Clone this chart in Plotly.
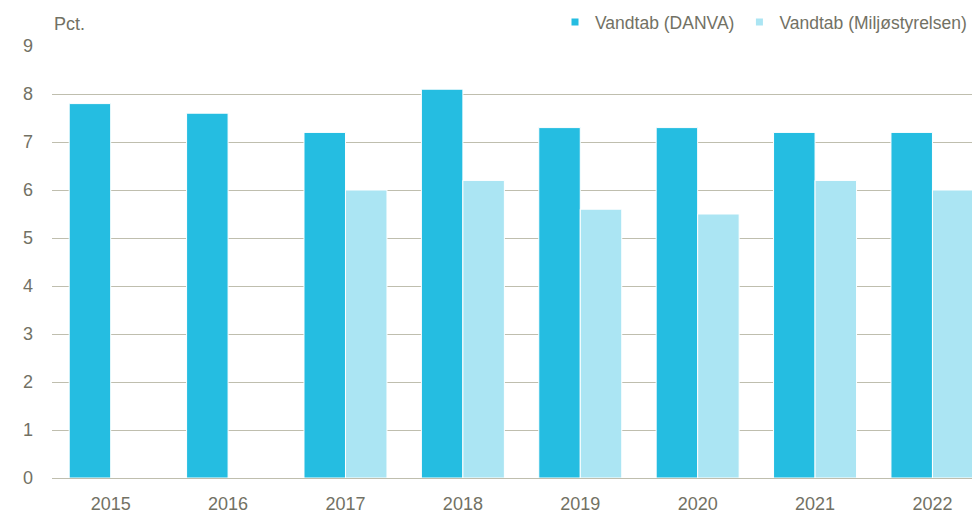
import plotly.graph_objects as go

years = ["2015", "2016", "2017", "2018", "2019", "2020", "2021", "2022"]
danva = [7.8, 7.6, 7.2, 8.1, 7.3, 7.3, 7.2, 7.2]
miljo = [None, None, 6.0, 6.2, 5.6, 5.5, 6.2, 6.0]
y_ticks = [0, 1, 2, 3, 4, 5, 6, 7, 8, 9]

c_danva = "#25BDE1"
c_miljo = "#ABE5F3"
txt = "#727164"
grid = "#BFBEAE"
font = "Liberation Sans, Arial, sans-serif"
fs = 18

fig = go.Figure()
fig.add_trace(go.Bar(x=years, y=danva, marker=dict(color=c_danva, line=dict(color="white", width=1)),
                     showlegend=False, name="Vandtab (DANVA)"))
fig.add_trace(go.Bar(x=years, y=miljo, marker=dict(color=c_miljo, line=dict(color="white", width=1)),
                     showlegend=False, name="Vandtab (Miljøstyrelsen)"))
# legend entries with small square markers
fig.add_trace(go.Scatter(x=[None], y=[None], mode="markers", name="Vandtab (DANVA)",
                         marker=dict(symbol="square", size=7, color=c_danva)))
fig.add_trace(go.Scatter(x=[None], y=[None], mode="markers", name="Vandtab (Miljøstyrelsen)",
                         marker=dict(symbol="square", size=7, color=c_miljo)))

# page has an 8px body margin, so the figure is 972x513 and margins are shifted by 8px
fig.update_layout(
    width=972, height=513,
    margin=dict(l=44, r=0, t=38, b=43, autoexpand=False),
    paper_bgcolor="white", plot_bgcolor="white",
    font=dict(family=font, size=fs, color=txt),
    barmode="group", bargap=0.293, bargroupgap=0,
    showlegend=True,
    legend=dict(orientation="h", x=(555 - 52) / 928, xanchor="left", y=1.055, yanchor="middle",
                font=dict(size=17.5, color=txt), itemwidth=30, traceorder="normal",
                bgcolor="rgba(0,0,0,0)"),
    xaxis=dict(type="category", range=[-0.5, 7.405], showgrid=False, showline=False,
               ticks="outside", ticklen=9, tickcolor="white", tickfont=dict(size=fs, color=txt)),
    yaxis=dict(range=[0, 9], tickvals=y_ticks, showgrid=True, gridcolor=grid, gridwidth=1,
               zeroline=True, zerolinecolor=grid, zerolinewidth=1, showline=False,
               ticklabelstandoff=18, tickfont=dict(size=fs, color=txt)),
    annotations=[dict(text="Pct.", xref="paper", yref="paper", x=0, y=1, xanchor="left",
                      yanchor="bottom", yshift=10, showarrow=False,
                      font=dict(size=fs, color=txt))],
)

fig.write_html("out.html")
